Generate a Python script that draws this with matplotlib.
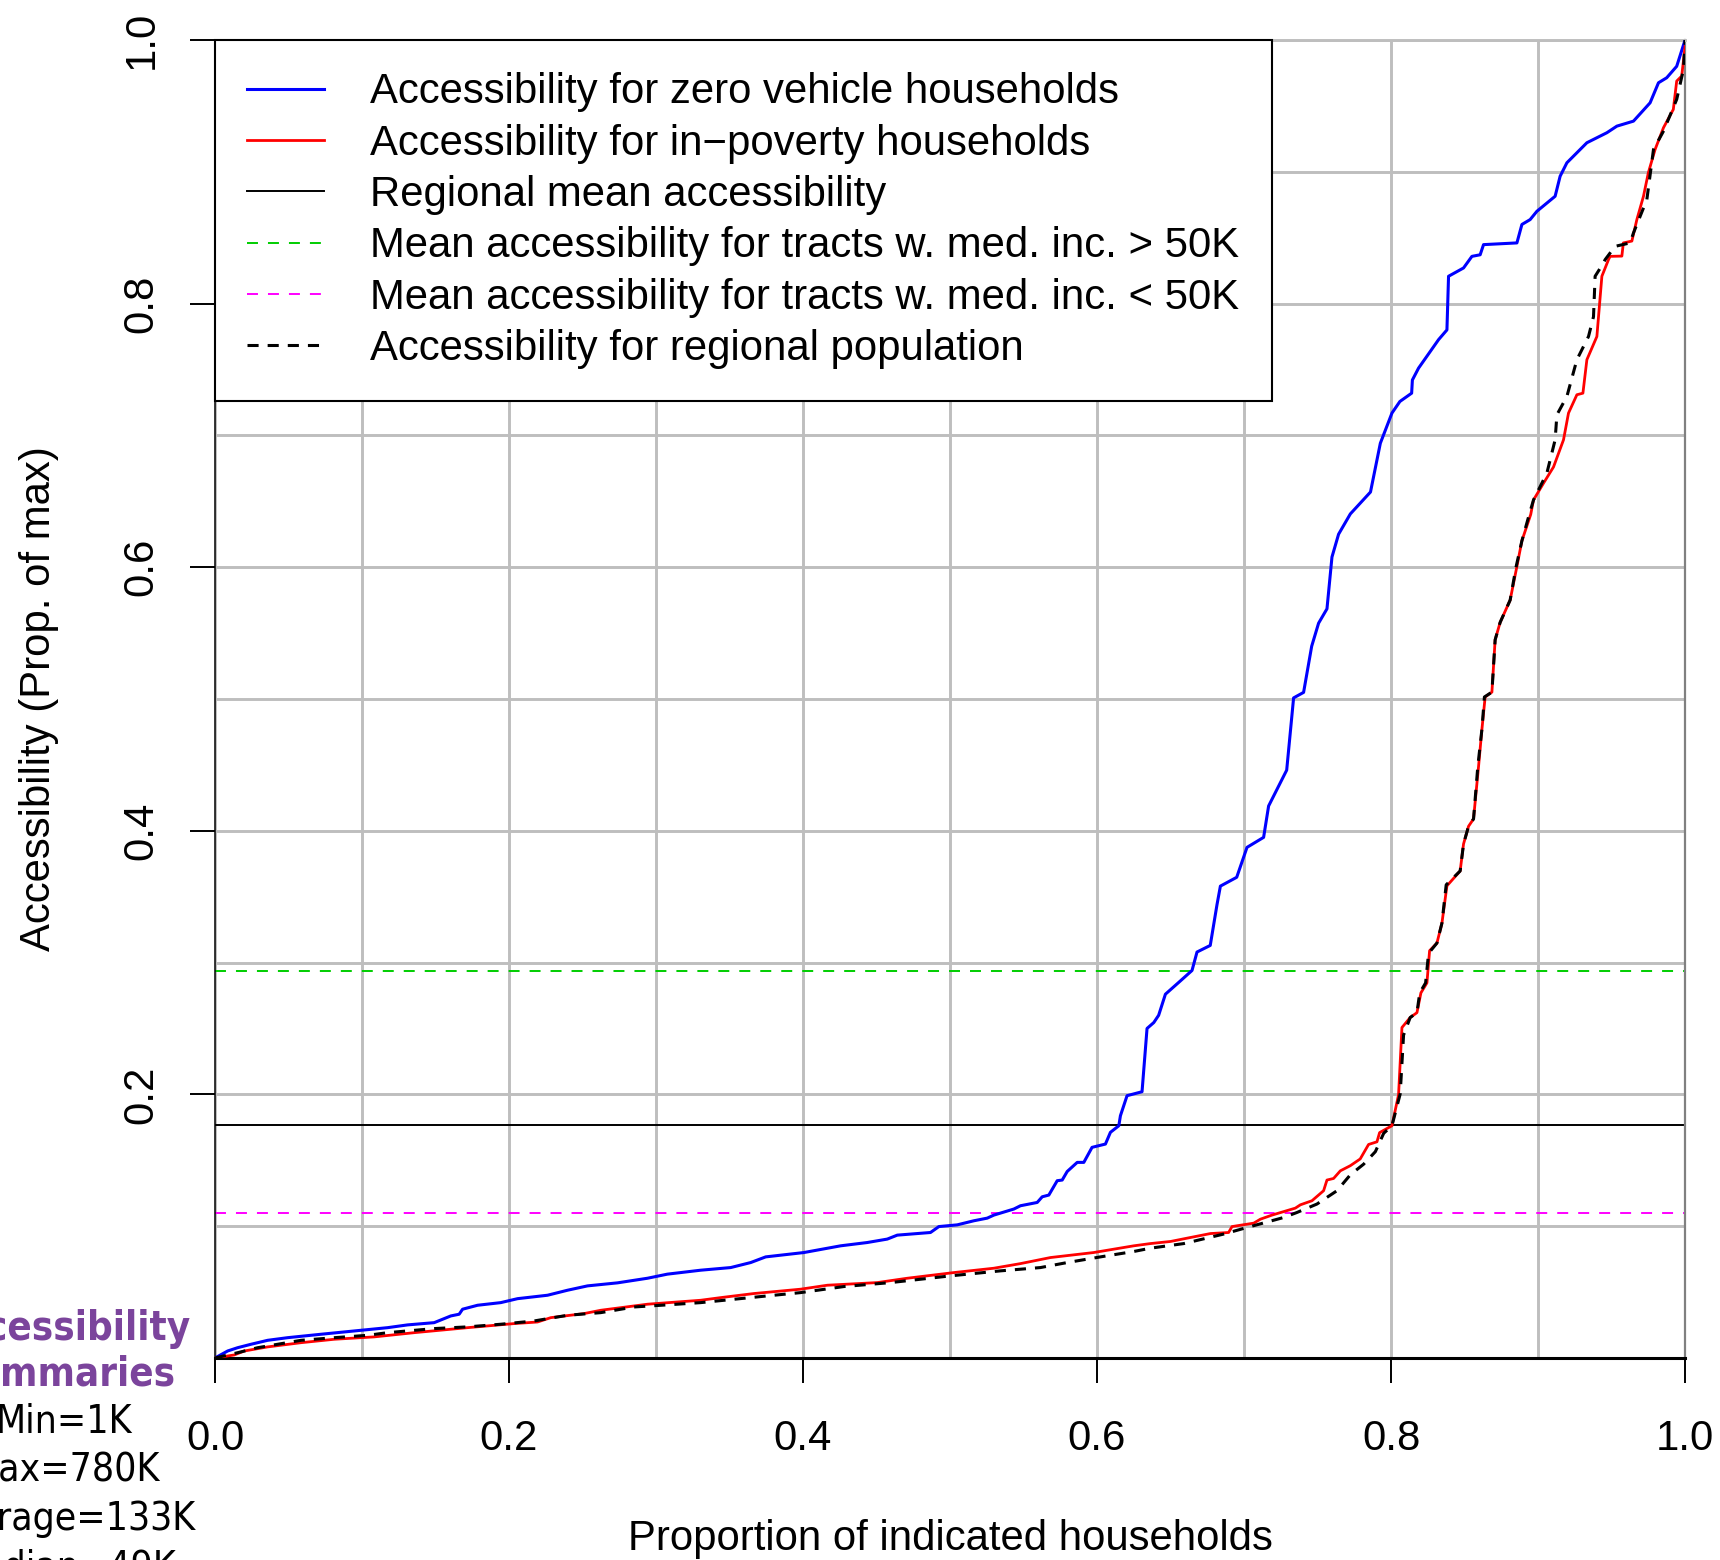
import matplotlib
matplotlib.use("Agg")
import matplotlib.pyplot as plt
from matplotlib.ticker import MultipleLocator

plt.rcParams['font.family'] = ['Liberation Sans', 'DejaVu Sans']
plt.rcParams['lines.scale_dashes'] = False

# Cumulative accessibility curves (proportion of households vs. accessibility)
zero_veh_x = [0.0, 0.0086, 0.0154, 0.0245, 0.0358, 0.0494, 0.0721, 0.0947, 0.1174, 0.131,
              0.1491, 0.1604, 0.1661, 0.1684, 0.1786, 0.1944, 0.2058, 0.2262, 0.2398, 0.2534,
              0.2738, 0.2942, 0.3077, 0.3304, 0.3508, 0.3644, 0.3746, 0.4006, 0.4256, 0.4437,
              0.4573, 0.4641, 0.4867, 0.4924, 0.5049, 0.5162, 0.5253, 0.5298, 0.5434, 0.5479,
              0.5593, 0.5627, 0.5672, 0.5729, 0.5763, 0.5797, 0.5865, 0.591, 0.5966, 0.6057,
              0.6091, 0.6148, 0.6159, 0.6204, 0.6306, 0.634, 0.6386, 0.6419, 0.6465, 0.6556,
              0.6646, 0.668, 0.677, 0.6816, 0.6839, 0.695, 0.702, 0.7133, 0.7167, 0.729,
              0.7337, 0.7405, 0.746, 0.7507, 0.7564, 0.7598, 0.7643, 0.7723, 0.786, 0.7927,
              0.8006, 0.806, 0.814, 0.8145, 0.8187, 0.8323, 0.838, 0.8391, 0.8493, 0.855,
              0.8606, 0.8629, 0.8856, 0.889, 0.8946, 0.8992, 0.9116, 0.915, 0.9196, 0.9332,
              0.9468, 0.9536, 0.9649, 0.9762, 0.9819, 0.9875, 0.9943, 1.0]
zero_veh_y = [0.0, 0.0053, 0.0078, 0.0104, 0.0134, 0.0154, 0.018, 0.0205, 0.023, 0.0251,
              0.0268, 0.0319, 0.0332, 0.037, 0.040, 0.042, 0.045, 0.0476, 0.0514, 0.0547,
              0.057, 0.0605, 0.0636, 0.0666, 0.0686, 0.0724, 0.0767, 0.080, 0.0851, 0.0876,
              0.0902, 0.0932, 0.0952, 0.0997, 0.101, 0.1041, 0.1061, 0.1084, 0.113, 0.1155,
              0.118, 0.1223, 0.1236, 0.1345, 0.135, 0.1415, 0.1484, 0.1484, 0.1598, 0.1623,
              0.1712, 0.1762, 0.1838, 0.199, 0.202, 0.25, 0.2545, 0.260, 0.276, 0.285,
              0.294, 0.308, 0.313, 0.344, 0.358, 0.3647, 0.3874, 0.395, 0.4188, 0.446,
              0.5008, 0.505, 0.540, 0.5575, 0.5684, 0.6077, 0.625, 0.6404, 0.657, 0.694,
              0.7169, 0.7257, 0.732, 0.742, 0.751, 0.7726, 0.780, 0.8207, 0.827, 0.8358,
              0.837, 0.8447, 0.846, 0.860, 0.8637, 0.870, 0.8814, 0.8966, 0.9068, 0.922,
              0.9296, 0.9346, 0.9384, 0.9523, 0.9675, 0.9713, 0.980, 1.0]

poverty_x = [0.0, 0.0131, 0.0199, 0.0358, 0.0585, 0.0811, 0.1083, 0.1355, 0.1718, 0.2035,
             0.2194, 0.2284, 0.2511, 0.2624, 0.2942, 0.3304, 0.344, 0.3666, 0.3984, 0.4165,
             0.4505, 0.4709, 0.5026, 0.5298, 0.5479, 0.5683, 0.5977, 0.625, 0.6363, 0.65,
             0.6635, 0.6771, 0.6895, 0.6918, 0.7066, 0.7111, 0.719, 0.7349, 0.7383, 0.7462,
             0.7541, 0.7564, 0.7609, 0.7655, 0.7723, 0.779, 0.7847, 0.7904, 0.7922, 0.8006,
             0.8051, 0.8074, 0.813, 0.8176, 0.8203, 0.8244, 0.8262, 0.8312, 0.8346, 0.838,
             0.847, 0.8493, 0.8527, 0.8561, 0.8595, 0.8618, 0.864, 0.8686, 0.8708, 0.8742,
             0.881, 0.8855, 0.889, 0.895, 0.8969, 0.9037, 0.9105, 0.9173, 0.9207, 0.9264,
             0.9305, 0.9332, 0.940, 0.9434, 0.9479, 0.949, 0.957, 0.958, 0.9638, 0.9672,
             0.9717, 0.975, 0.9796, 0.9853, 0.992, 0.9943, 0.9977, 1.0]
poverty_y = [0.0, 0.0023, 0.0053, 0.0084, 0.0116, 0.0142, 0.016, 0.0192, 0.023, 0.0261,
             0.0273, 0.0306, 0.0337, 0.0362, 0.0408, 0.0438, 0.0458, 0.0489, 0.0522, 0.0552,
             0.0572, 0.0605, 0.0648, 0.0681, 0.0716, 0.0762, 0.080, 0.0851, 0.0868, 0.0884,
             0.0914, 0.0944, 0.0952, 0.0997, 0.1023, 0.1053, 0.1084, 0.1137, 0.1162, 0.1193,
             0.1269, 0.135, 0.1362, 0.142, 0.1459, 0.151, 0.162, 0.164, 0.171, 0.1762,
             0.1998, 0.2507, 0.2583, 0.262, 0.277, 0.2846, 0.309, 0.3148, 0.3299, 0.3582,
             0.3695, 0.390, 0.4034, 0.409, 0.4487, 0.477, 0.5015, 0.5052, 0.5449, 0.5581,
             0.575, 0.600, 0.620, 0.640, 0.651, 0.6637, 0.676, 0.6966, 0.7169, 0.7308,
             0.732, 0.7574, 0.775, 0.8207, 0.8333, 0.8358, 0.836, 0.846, 0.8474, 0.8637,
             0.8814, 0.8992, 0.9169, 0.9334, 0.9473, 0.9688, 0.9726, 0.995]

regional_x = [0.0, 0.0154, 0.029, 0.0426, 0.0585, 0.0811, 0.1038, 0.1174, 0.1491, 0.1718,
              0.1944, 0.2172, 0.2398, 0.2624, 0.2851, 0.3077, 0.3304, 0.3757, 0.3984, 0.4278,
              0.4596, 0.5003, 0.5343, 0.5615, 0.5797, 0.6023, 0.625, 0.6363, 0.659, 0.6861,
              0.702, 0.727, 0.736, 0.7496, 0.7632, 0.7723, 0.7813, 0.7893, 0.795, 0.8006,
              0.8062, 0.8085, 0.813, 0.8176, 0.8195, 0.8235, 0.8255, 0.8312, 0.8346, 0.8375,
              0.847, 0.8493, 0.8527, 0.8561, 0.859, 0.8618, 0.8635, 0.8686, 0.8708, 0.8742,
              0.881, 0.885, 0.889, 0.894, 0.8969, 0.906, 0.9116, 0.9128, 0.9196, 0.9264,
              0.9343, 0.9377, 0.9388, 0.9445, 0.9456, 0.9524, 0.9626, 0.9649, 0.974, 0.9785,
              0.9853, 0.9943, 0.9989, 1.0]
regional_y = [0.0, 0.004, 0.0078, 0.0104, 0.0134, 0.0154, 0.0172, 0.0192, 0.0223, 0.0236,
              0.0256, 0.0281, 0.0324, 0.0344, 0.0387, 0.0403, 0.042, 0.0471, 0.0496, 0.0542,
              0.0572, 0.0623, 0.0661, 0.0686, 0.0724, 0.0767, 0.0808, 0.0833, 0.0868, 0.094,
              0.099, 0.1066, 0.1104, 0.1168, 0.1269, 0.139, 0.147, 0.1565, 0.1705, 0.1762,
              0.2003, 0.245, 0.2583, 0.262, 0.277, 0.2846, 0.307, 0.3148, 0.3299, 0.359,
              0.3695, 0.390, 0.4034, 0.409, 0.4487, 0.477, 0.5015, 0.5052, 0.5449, 0.5581,
              0.575, 0.600, 0.620, 0.640, 0.651, 0.6714, 0.6966, 0.7156, 0.7295, 0.7574,
              0.775, 0.790, 0.8207, 0.8308, 0.8333, 0.8434, 0.846, 0.8536, 0.8789, 0.9169,
              0.9308, 0.9549, 0.9777, 1.0]

# Reference levels
regional_mean = 0.177
mean_above_50k = 0.2935
mean_below_50k = 0.110

legend_labels = ["Accessibility for zero vehicle households",
                 "Accessibility for in\u2212poverty households",
                 "Regional mean accessibility",
                 "Mean accessibility for tracts w. med. inc. > 50K",
                 "Mean accessibility for tracts w. med. inc. < 50K",
                 "Accessibility for regional population"]

x_ticks = [0.0, 0.2, 0.4, 0.6, 0.8, 1.0]
y_ticks = [0.2, 0.4, 0.6, 0.8, 1.0]

summary_title = ["Accessibility", "summaries"]
summary_lines = ["Min=1K", "Max=780K", "Average=133K", "Median=49K"]

FS = 30.2

fig = plt.figure(figsize=(17.2, 15.6), dpi=100)
ax = fig.add_axes([0.125, 0.1295, 0.8547, 0.8449])
ax.set_xlim(0, 1)
ax.set_ylim(0, 1)

ax.set_xticks(x_ticks)
ax.set_yticks(y_ticks)
ax.xaxis.set_minor_locator(MultipleLocator(0.1))
ax.yaxis.set_minor_locator(MultipleLocator(0.1))
ax.set_axisbelow(True)
ax.grid(which='both', color='#BEBEBE', linewidth=2.1)
ax.tick_params(which='minor', length=0)
ax.tick_params(which='major', length=18, width=1.4, labelsize=FS, direction='out')
ax.tick_params(axis='x', pad=26)
ax.tick_params(axis='y', pad=20.5, labelrotation=90)
plt.setp(ax.get_yticklabels(), va='center')

ax.spines['left'].set_linewidth(1.1)
ax.spines['bottom'].set_linewidth(2.2)
ax.spines['top'].set_color('#BEBEBE')
ax.spines['top'].set_linewidth(2.1)
ax.spines['right'].set_color('#808080')
ax.spines['right'].set_linewidth(1.6)

# Horizontal reference lines
h_mean = ax.axhline(regional_mean, color='black', linewidth=1.4, zorder=2)
h_hi = ax.axhline(mean_above_50k, color='#00CD00', linewidth=1.4,
                  dashes=(7.9, 7.2), zorder=2)
h_lo = ax.axhline(mean_below_50k, color='#FF00FF', linewidth=1.4,
                  dashes=(7.9, 7.2), zorder=2)

l_zero, = ax.plot(zero_veh_x, zero_veh_y, color='#0000FF', linewidth=2.2, zorder=3)
l_pov, = ax.plot(poverty_x, poverty_y, color='#FF0000', linewidth=2.0, zorder=3)
l_reg, = ax.plot(regional_x, regional_y, color='black', linewidth=2.2,
                 dashes=(8, 6.5), zorder=4)

leg = ax.legend([l_zero, l_pov, h_mean, h_hi, h_lo, l_reg], legend_labels,
                loc='upper left', bbox_to_anchor=(0, 1), borderaxespad=0,
                fontsize=FS, fancybox=False, edgecolor='black', framealpha=1,
                handlelength=1.83, handletextpad=1.1, borderpad=0.77,
                labelspacing=0.27)
leg.get_frame().set_linewidth(1.5)
leg.set_zorder(10)

ax.set_xlabel('Proportion of indicated households', fontsize=FS)
ax.xaxis.set_label_coords(0.5, -0.122)
ax.set_ylabel('Accessibility (Prop. of max)', fontsize=FS)
ax.yaxis.set_label_coords(-0.106, 0.5)

# Summary statistics block on the left margin
cx = 0.0374
for i, line in enumerate(summary_title):
    fig.text(cx, 1 - (1340 + 46 * i) / 1560, line, ha='center', va='baseline',
             fontsize=28.8, fontweight='bold', fontstretch='condensed',
             color='#7B449C', family='DejaVu Sans')
for i, line in enumerate(summary_lines):
    fig.text(cx, 1 - (1433 + 48.5 * i) / 1560, line, ha='center', va='baseline',
             fontsize=28, fontstretch='condensed', color='black', family='DejaVu Sans')

fig.savefig('out.png', dpi=100)
